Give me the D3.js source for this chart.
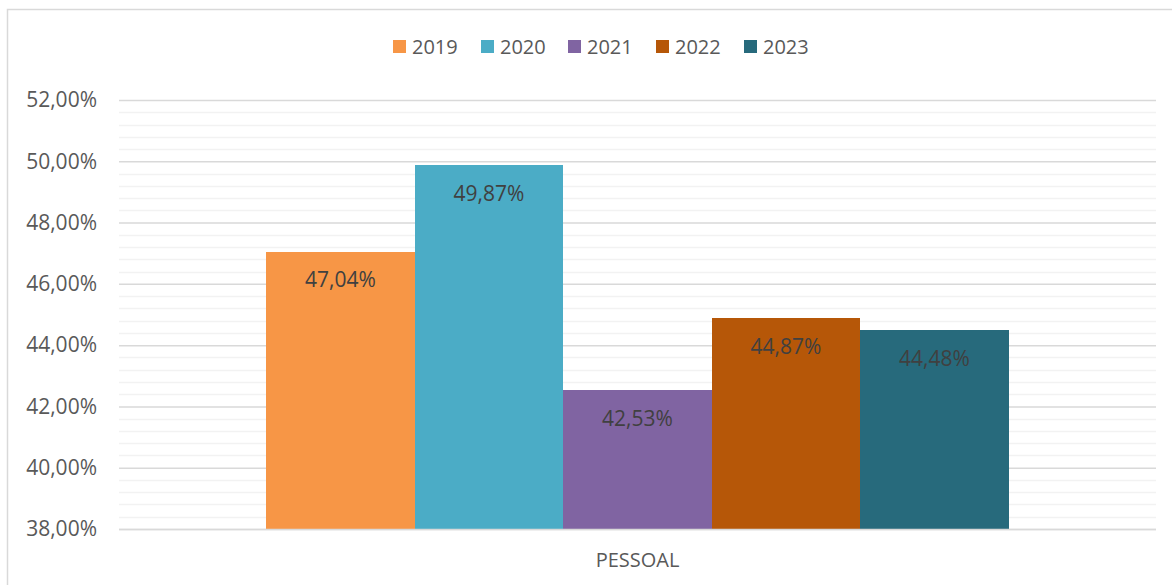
<!DOCTYPE html>
<html><head><meta charset="utf-8">
<script src="https://cdn.jsdelivr.net/npm/d3@7"></script>
<style>body{margin:0;background:#fff}svg{display:block}</style>
</head><body><svg id="c" width="1172" height="585"></svg>
<script>
const categories = ["PESSOAL"];
const seriesNames = ["2019","2020","2021","2022","2023"];
const seriesValues = [47.04, 49.87, 42.53, 44.87, 44.48];
const seriesColors = ["#F79646","#4BACC6","#8064A2","#B65708","#276A7C"];
const yTicks = [38,40,42,44,46,48,50,52];

const W=1172,H=585;
const m={left:119,right:1156,top:100,bottom:529};
const svg=d3.select("#c");
const font="'Open Sans', 'Noto Sans', sans-serif";

svg.append("rect").attr("x",7.5).attr("y",9.5).attr("width",W).attr("height",H)
  .attr("fill","#fff").attr("stroke","#d9d9d9").attr("stroke-width",1.5);

const y=d3.scaleLinear().domain([38,52]).range([m.bottom,m.top]);
const x0=d3.scaleBand().domain(categories).range([m.left,m.right]).paddingInner(0).paddingOuter(0.198);
const x1=d3.scaleBand().domain(seriesNames).range([0,x0.bandwidth()]).padding(0);

// minor gridlines
const minor=d3.range(38,52.001,0.4).filter(v=>Math.abs(v/2-Math.round(v/2))>1e-6);
svg.append("g").selectAll("line").data(minor).join("line")
  .attr("x1",m.left).attr("x2",m.right).attr("y1",d=>Math.round(y(d))+0.5).attr("y2",d=>Math.round(y(d))+0.5)
  .attr("stroke","#f2f2f2").attr("stroke-width",1.5);
// major gridlines
const yAxis=d3.axisLeft(y).tickValues(yTicks).tickSize(-(m.right-m.left)).tickPadding(22)
  .tickFormat(d=>d3.format(".2f")(d).replace(".",",")+"%");
const ga=svg.append("g").attr("transform",`translate(${m.left},0)`).call(yAxis);
ga.select(".domain").remove();
ga.selectAll(".tick line").attr("stroke","#d9d9d9").attr("stroke-width",1.5);
ga.selectAll(".tick text").attr("fill","#595959").style("font-family",font).style("font-size","21px");

// bars
const g=svg.append("g");
categories.forEach(cat=>{
  seriesNames.forEach((s,i)=>{
    const v=seriesValues[i];
    const bx=Math.round(x0(cat)+x1(s));
    const bx2=Math.round(x0(cat)+x1(s)+x1.bandwidth());
    g.append("rect").attr("x",bx).attr("y",y(v)).attr("width",bx2-bx).attr("height",y(38)-y(v))
      .attr("fill",seriesColors[i]).attr("shape-rendering","crispEdges");
    g.append("text").attr("x",(bx+bx2)/2).attr("y",y(v)+28).attr("dy","0.35em")
      .attr("text-anchor","middle").attr("fill","#404040").style("font-family",font).style("font-size","21px")
      .text(d3.format(".2f")(v).replace(".",",")+"%");
  });
});
// bottom axis line
svg.append("line").attr("x1",m.left).attr("x2",m.right).attr("y1",m.bottom+0.5).attr("y2",m.bottom+0.5)
  .attr("stroke","#d9d9d9").attr("stroke-width",1.5);
// category label
svg.append("g").selectAll("text").data(categories).join("text")
  .attr("x",d=>x0(d)+x0.bandwidth()/2).attr("y",560).attr("dy","0.35em").attr("text-anchor","middle")
  .attr("fill","#595959").style("font-family",font).style("font-size","20px").text(d=>d);

// legend
const legX=[393,481,568,656,744];
const lg=svg.append("g");
seriesNames.forEach((s,i)=>{
  lg.append("rect").attr("x",legX[i]).attr("y",40).attr("width",13).attr("height",13).attr("fill",seriesColors[i]);
  lg.append("text").attr("x",legX[i]+19).attr("y",47).attr("dy","0.35em").attr("fill","#595959")
    .style("font-family",font).style("font-size","20px").text(s);
});
</script></body></html>
